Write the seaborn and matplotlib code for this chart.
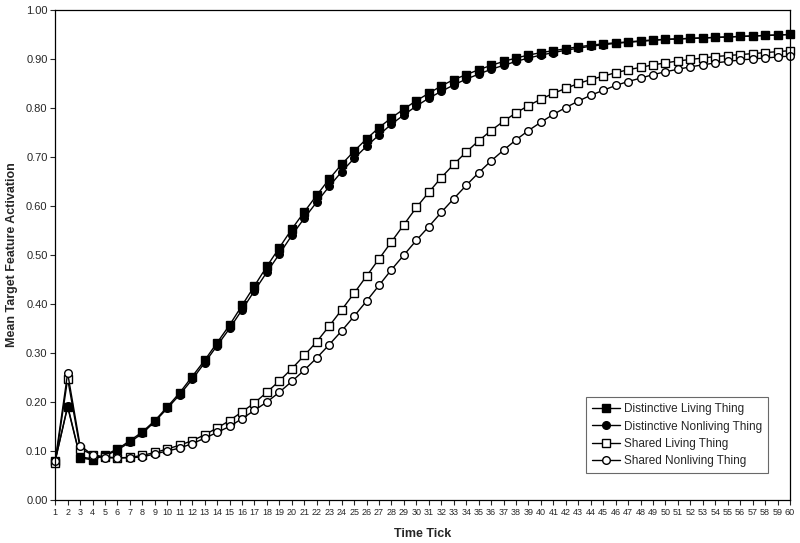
import numpy as np
import pandas as pd
import seaborn as sns
import matplotlib.pyplot as plt

ticks = list(range(1, 61))

distinctive_living = [
    0.080, 0.190, 0.086, 0.082, 0.092, 0.104, 0.121, 0.139, 0.162, 0.190,
    0.219, 0.252, 0.285, 0.321, 0.357, 0.397, 0.437, 0.477, 0.515, 0.553,
    0.588, 0.622, 0.655, 0.685, 0.712, 0.737, 0.760, 0.780, 0.798, 0.815,
    0.830, 0.845, 0.858, 0.868, 0.878, 0.887, 0.895, 0.902, 0.908, 0.913,
    0.917, 0.921, 0.925, 0.928, 0.931, 0.933, 0.935, 0.937, 0.939, 0.940,
    0.941, 0.942, 0.943, 0.944, 0.945, 0.946, 0.947, 0.948, 0.949, 0.950,
]
distinctive_nonliving = [
    0.080, 0.192, 0.088, 0.084, 0.090, 0.102, 0.118, 0.136, 0.160, 0.187,
    0.215, 0.246, 0.280, 0.315, 0.350, 0.388, 0.427, 0.465, 0.502, 0.540,
    0.575, 0.608, 0.640, 0.670, 0.697, 0.722, 0.745, 0.767, 0.786, 0.804,
    0.820, 0.834, 0.847, 0.859, 0.869, 0.879, 0.887, 0.895, 0.902, 0.908,
    0.913, 0.918, 0.922, 0.926, 0.929, 0.932, 0.934, 0.936, 0.938, 0.940,
    0.941, 0.942, 0.943, 0.944, 0.945, 0.946, 0.947, 0.948, 0.949, 0.950,
]
shared_living = [
    0.076, 0.247, 0.105, 0.092, 0.088, 0.086, 0.087, 0.091, 0.097, 0.104,
    0.112, 0.121, 0.133, 0.147, 0.162, 0.180, 0.198, 0.220, 0.243, 0.268,
    0.295, 0.323, 0.355, 0.388, 0.422, 0.457, 0.492, 0.527, 0.562, 0.597,
    0.628, 0.658, 0.685, 0.710, 0.733, 0.754, 0.773, 0.790, 0.805, 0.818,
    0.830, 0.840, 0.850, 0.858, 0.865, 0.872, 0.878, 0.883, 0.888, 0.892,
    0.896, 0.899, 0.902, 0.905, 0.907, 0.909, 0.911, 0.913, 0.915, 0.917,
]
shared_nonliving = [
    0.080, 0.259, 0.111, 0.092, 0.086, 0.086, 0.086, 0.088, 0.094, 0.100,
    0.106, 0.115, 0.126, 0.138, 0.150, 0.166, 0.183, 0.200, 0.220, 0.242,
    0.265, 0.290, 0.317, 0.345, 0.375, 0.406, 0.438, 0.470, 0.500, 0.530,
    0.558, 0.587, 0.615, 0.642, 0.668, 0.692, 0.714, 0.735, 0.754, 0.771,
    0.787, 0.801, 0.814, 0.826, 0.836, 0.846, 0.854, 0.861, 0.868, 0.874,
    0.879, 0.884, 0.888, 0.892, 0.895, 0.898, 0.900, 0.902, 0.904, 0.906,
]

series = [
    ("Distinctive Living Thing", distinctive_living, "s", "black"),
    ("Distinctive Nonliving Thing", distinctive_nonliving, "o", "black"),
    ("Shared Living Thing", shared_living, "s", "white"),
    ("Shared Nonliving Thing", shared_nonliving, "o", "white"),
]

sns.set_style("ticks")
plt.rcParams["font.family"] = ["Liberation Sans", "DejaVu Sans"]

fig = plt.figure(figsize=(8, 5.43), dpi=100)
ax = fig.add_axes([0.069, 0.0792, 0.9185, 0.9024])

for name, vals, mk, face in series:
    df = pd.DataFrame({"tick": ticks, "value": vals})
    sns.lineplot(data=df, x="tick", y="value", ax=ax, color="black",
                 linewidth=1.0, marker=mk, markersize=5.5,
                 markerfacecolor=face, markeredgecolor="black",
                 markeredgewidth=1.0, label=name, clip_on=False)

ax.set_xlim(1, 60)
ax.set_ylim(0, 1.0)
ax.set_xticks(ticks)
ax.set_xticklabels([str(t) for t in ticks], fontsize=6.5)
ax.set_yticks(np.arange(0, 1.01, 0.1))
ax.set_yticklabels([f"{v:.2f}" for v in np.arange(0, 1.01, 0.1)], fontsize=8)
ax.tick_params(axis="both", direction="out", length=3.5, width=0.8, pad=2)

for sp in ax.spines.values():
    sp.set_visible(True)
    sp.set_linewidth(0.9)
    sp.set_color("black")

ax.set_xlabel("Time Tick", fontsize=9, fontweight="bold", labelpad=8)
ax.set_ylabel("Mean Target Feature Activation", fontsize=9, fontweight="bold", labelpad=6)

leg = ax.legend(loc="lower right", bbox_to_anchor=(0.970, 0.055), borderaxespad=0,
                fontsize=8.5, frameon=True, fancybox=False, handlelength=2.4,
                handletextpad=0.3, labelspacing=0.45, borderpad=0.5)
leg.get_frame().set_edgecolor("#444444")
leg.get_frame().set_linewidth(0.8)

fig.savefig("out.png", dpi=100)
